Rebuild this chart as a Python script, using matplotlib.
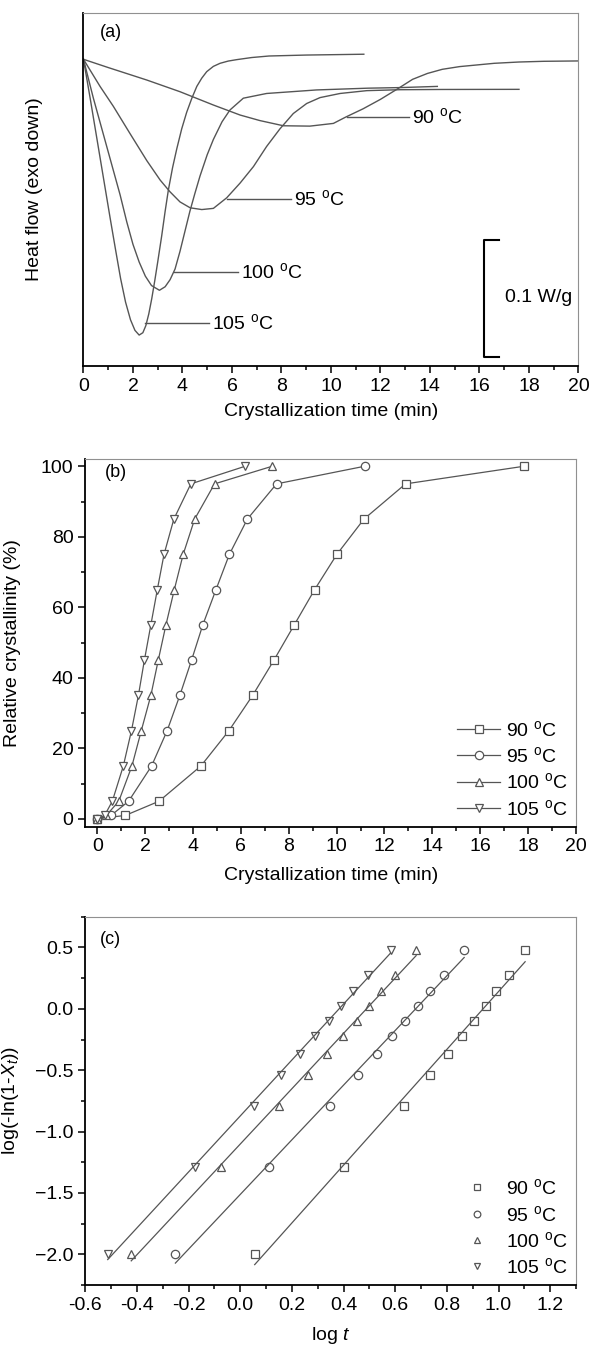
import numpy as np
import matplotlib
matplotlib.use("Agg")
import matplotlib.pyplot as plt
from matplotlib.ticker import MultipleLocator, NullLocator

plt.rcParams['font.family'] = ['Liberation Sans', 'DejaVu Sans']
plt.rcParams['mathtext.fontset'] = 'custom'
plt.rcParams['mathtext.rm'] = 'Liberation Sans'
plt.rcParams['mathtext.it'] = 'Liberation Sans:italic'
plt.rcParams['font.size'] = 14

# ---- (a) isothermal DSC curves, heat flow in mW/g relative to start ----
dsc_t_90 = [0, 1.0, 2.56, 3.90, 5.25, 6.33, 7.13, 8.08, 9.15, 10.1, 10.6, 11.3, 12.0, 12.7, 13.3, 13.9, 14.5, 15.2, 16.6, 17.6, 18.6, 20.0]
dsc_hf_90 = [0, -7, -17.6, -27.5, -38.8, -47.3, -52, -56.4, -56.7, -54.4, -49, -42, -34, -25, -17, -12, -8.5, -6.2, -3.4, -2.3, -1.7, -1.4]
dsc_t_95 = [0, 0.67, 1.21, 1.88, 2.56, 3.10, 3.50, 3.90, 4.31, 4.78, 5.25, 5.79, 6.33, 6.87, 7.40, 7.94, 8.48, 9.02, 9.56, 10.37, 11.45, 12.8, 14.5, 17.6]
dsc_hf_95 = [0, -23, -40, -63, -86, -102.5, -112.5, -121, -126, -127.5, -126.5, -117.5, -105, -91, -74, -59, -46, -37.5, -32.5, -29, -26.6, -25.8, -25.6, -25.5]
dsc_t_100 = [0, 0.40, 0.94, 1.48, 1.75, 2.0, 2.25, 2.5, 2.75, 3.07, 3.3, 3.5, 3.7, 3.9, 4.1, 4.3, 4.5, 4.71, 5.0, 5.25, 5.6, 5.92, 6.46, 7.40, 9.42, 11.5, 12.8, 14.3]
dsc_hf_100 = [0, -33, -74, -115, -138, -157, -172, -184, -192, -196, -193, -187, -178, -163, -146, -129, -114, -99, -81, -68, -53, -43, -33, -29, -26, -24.5, -24, -23]
dsc_t_105 = [0, 0.27, 0.54, 0.81, 1.08, 1.3, 1.5, 1.7, 1.9, 2.08, 2.25, 2.4, 2.52, 2.64, 2.76, 2.88, 3.0, 3.16, 3.3, 3.43, 3.6, 3.77, 3.97, 4.17, 4.38, 4.58, 4.78, 4.98, 5.25, 5.52, 5.85, 6.19, 6.8, 7.5, 9.0, 10.0, 11.33]
dsc_hf_105 = [0, -33, -67, -101, -135, -162, -186, -206, -221, -230, -234, -232, -226, -216, -203, -188, -172, -150, -129, -111, -92, -76, -59, -45, -33, -23, -16, -10.5, -6, -3.4, -1.5, -0.3, 1.5, 2.8, 3.6, 3.9, 4.3]

# ---- (b) relative crystallinity vs time ----
xc_levels = [0, 1, 5, 15, 25, 35, 45, 55, 65, 75, 85, 95, 100]
t_90 = [0, 1.18, 2.58, 4.33, 5.50, 6.49, 7.38, 8.23, 9.08, 10.01, 11.14, 12.88, 17.83]
t_95 = [0, 0.58, 1.31, 2.27, 2.92, 3.45, 3.94, 4.41, 4.96, 5.52, 6.27, 7.49, 11.17]
t_100 = [0, 0.38, 0.90, 1.45, 1.84, 2.24, 2.55, 2.87, 3.22, 3.59, 4.07, 4.90, 7.31]
t_105 = [0, 0.31, 0.63, 1.09, 1.43, 1.72, 1.97, 2.24, 2.51, 2.79, 3.20, 3.91, 6.18]

# ---- (c) Avrami plot ----
avrami_y = [-2.0, -1.29, -0.79, -0.54, -0.366, -0.223, -0.098, 0.021, 0.142, 0.278, 0.477]
logt_90 = [0.056, 0.403, 0.633, 0.734, 0.803, 0.860, 0.906, 0.950, 0.992, 1.040, 1.103]
logt_95 = [-0.251, 0.112, 0.349, 0.455, 0.531, 0.589, 0.638, 0.688, 0.734, 0.788, 0.867]
logt_100 = [-0.422, -0.073, 0.152, 0.261, 0.337, 0.398, 0.452, 0.499, 0.545, 0.599, 0.681]
logt_105 = [-0.513, -0.177, 0.052, 0.157, 0.232, 0.290, 0.343, 0.390, 0.436, 0.494, 0.582]

labels = ['90 $^{\\rm o}$C', '95 $^{\\rm o}$C', '100 $^{\\rm o}$C', '105 $^{\\rm o}$C']
markers = ['s', 'o', '^', 'v']
gray = '#555555'


def style_axes(ax):
    for s in ['top', 'right']:
        ax.spines[s].set_color('#909090')
    for s in ['left', 'bottom']:
        ax.spines[s].set_linewidth(1.3)
    ax.tick_params(which='both', direction='out', top=False, right=False, width=1.1)
    ax.tick_params(which='major', length=5, labelsize=14)
    ax.tick_params(which='minor', length=3)


fig = plt.figure(figsize=(5.92, 13.47), dpi=100)

# (a)
ax = fig.add_axes([0.141, 0.7285, 0.836, 0.2616])
dsc = [(dsc_t_90, dsc_hf_90), (dsc_t_95, dsc_hf_95), (dsc_t_100, dsc_hf_100), (dsc_t_105, dsc_hf_105)]
for t, hf in dsc:
    ax.plot(t, hf, color=gray, lw=1.0)
ax.set_xlim(0, 20)
ax.set_ylim(-260, 39)
style_axes(ax)
ax.xaxis.set_major_locator(MultipleLocator(2))
ax.xaxis.set_minor_locator(MultipleLocator(1))
ax.yaxis.set_major_locator(NullLocator())
ax.set_xlabel('Crystallization time (min)', fontsize=14, labelpad=6)
ax.set_ylabel('Heat flow (exo down)', fontsize=14)
ax.yaxis.set_label_coords(-0.082, 0.5)
ax.text(0.033, 0.947, '(a)', transform=ax.transAxes, fontsize=13, va='center')
# leader lines with labels
leaders = [(10.66, 13.17, -48.7, labels[0]), (5.78, 8.37, -118.7, labels[1]),
           (3.67, 6.23, -180.5, labels[2]), (2.5, 5.09, -223.8, labels[3])]
for x0, x1, yv, lab in leaders:
    ax.plot([x0, x1], [yv, yv], color=gray, lw=1.0)
    ax.text(x1 + 0.12, yv, lab, fontsize=14, va='center', ha='left')
# scale bar 0.1 W/g
ax.plot([16.78, 16.19, 16.19, 16.78], [-153, -153, -253, -253], color='k', lw=1.5)
ax.text(18.38, -202.5, '0.1 W/g', fontsize=14, ha='center', va='center')

# (b)
ax = fig.add_axes([0.144, 0.3863, 0.829, 0.2728])
for t, m, lab in zip([t_90, t_95, t_100, t_105], markers, labels):
    ax.plot(t, xc_levels, color=gray, lw=0.9, marker=m, ms=6, mfc='white', mec=gray, mew=0.9, label=lab)
ax.set_xlim(-0.5, 20)
ax.set_ylim(-2.2, 102)
style_axes(ax)
ax.xaxis.set_major_locator(MultipleLocator(2))
ax.xaxis.set_minor_locator(MultipleLocator(1))
ax.yaxis.set_major_locator(MultipleLocator(20))
ax.yaxis.set_minor_locator(MultipleLocator(10))
ax.set_xlabel('Crystallization time (min)', fontsize=14, labelpad=8)
ax.set_ylabel('Relative crystallinity (%)', fontsize=14)
ax.yaxis.set_label_coords(-0.131, 0.5)
ax.text(0.041, 0.963, '(b)', transform=ax.transAxes, fontsize=13, va='center')
ax.legend(loc='lower right', frameon=False, fontsize=14, handlelength=2.2, handletextpad=0.3,
          labelspacing=0.32, borderaxespad=0.3, bbox_to_anchor=(1.01, -0.015))

# (c)
ax = fig.add_axes([0.144, 0.046, 0.829, 0.2734])
for lt, m, lab in zip([logt_90, logt_95, logt_100, logt_105], markers, labels):
    ax.plot(lt, avrami_y, ls='none', marker=m, ms=6, mfc='white', mec=gray, mew=0.9, label=lab)
    k, b = np.polyfit(lt, avrami_y, 1)
    xx = np.array([min(lt), max(lt)])
    ax.plot(xx, k * xx + b, color=gray, lw=0.9)
ax.set_xlim(-0.6, 1.3)
ax.set_ylim(-2.25, 0.75)
style_axes(ax)
ax.xaxis.set_major_locator(MultipleLocator(0.2))
ax.xaxis.set_minor_locator(MultipleLocator(0.1))
ax.yaxis.set_major_locator(MultipleLocator(0.5))
ax.yaxis.set_minor_locator(MultipleLocator(0.25))
ax.set_xticklabels([f'{v:.1f}' for v in ax.get_xticks()])
ax.set_xlabel('log $t$', fontsize=14, labelpad=8)
ax.set_ylabel('log(-ln(1-$X_t$))', fontsize=14)
ax.yaxis.set_label_coords(-0.131, 0.5)
ax.text(0.03, 0.937, '(c)', transform=ax.transAxes, fontsize=13, va='center')
ax.legend(loc='lower right', frameon=False, fontsize=14, handlelength=1.0, handletextpad=1.0,
          labelspacing=0.32, markerscale=0.8, borderaxespad=0.3, bbox_to_anchor=(1.01, -0.015))

fig.savefig('out.png', dpi=100)
